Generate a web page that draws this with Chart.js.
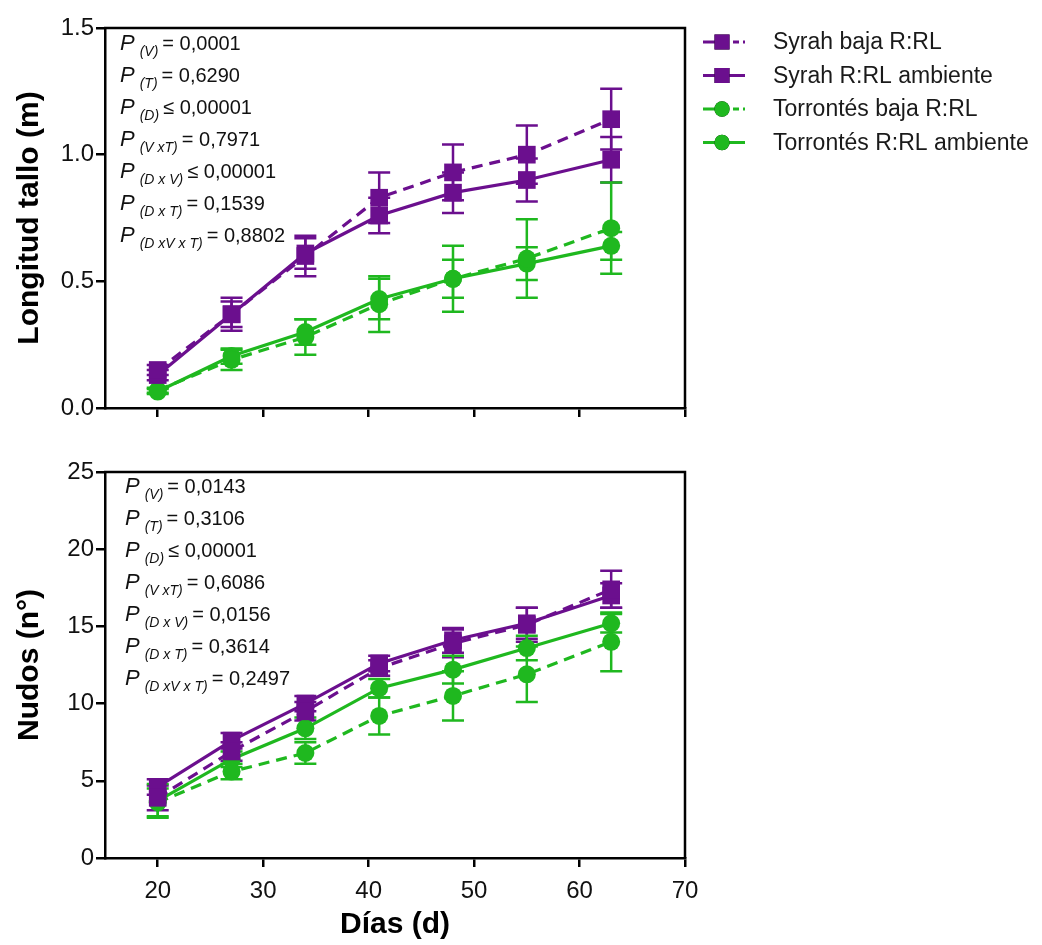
<!DOCTYPE html>
<html>
<head>
<meta charset="utf-8">
<script src="https://cdn.jsdelivr.net/npm/chart.js@4.4.1/dist/chart.umd.min.js"></script>
<style>
    body { margin: 0; background: #fff; }
    canvas { position: absolute; left: 0; }
</style>
</head>
<body>
<canvas id="graficoLongitud" width="1042" height="440" style="top:0"></canvas>
<canvas id="graficoNudos" width="1042" height="505" style="top:440px"></canvas>
<script>
// dias de medicion
const dias = [20, 27, 34, 41, 48, 55, 63];
const xTicks = [20, 30, 40, 50, 60, 70];

const nombres = ['Syrah baja R:RL', 'Syrah R:RL ambiente', 'Torrontés baja R:RL', 'Torrontés R:RL ambiente'];

// longitud tallo (m) + error
const longSyrahBaja = [0.15, 0.37, 0.60, 0.83, 0.93, 1.00, 1.14];
const longSyrahBajaErr = [0.02, 0.065, 0.08, 0.10, 0.11, 0.115, 0.12];
const longSyrahAmb = [0.13, 0.37, 0.61, 0.76, 0.85, 0.90, 0.98];
const longSyrahAmbErr = [0.02, 0.05, 0.06, 0.07, 0.08, 0.085, 0.09];
const longTorrBaja = [0.07, 0.19, 0.28, 0.41, 0.51, 0.59, 0.71];
const longTorrBajaErr = [0.01, 0.04, 0.07, 0.11, 0.13, 0.155, 0.18];
const longTorrAmb = [0.065, 0.205, 0.30, 0.43, 0.51, 0.57, 0.64];
const longTorrAmbErr = [0.01, 0.03, 0.05, 0.08, 0.075, 0.065, 0.055];
const longTicks = [0, 0.5, 1.0, 1.5];

// nudos (n°) + error
const nudSyrahBaja = [3.9, 6.9, 9.5, 12.3, 13.9, 15.1, 17.4];
const nudSyrahBajaErr = [0.8, 0.6, 0.6, 0.5, 0.9, 1.1, 1.2];
const nudSyrahAmb = [4.6, 7.6, 10.0, 12.6, 14.1, 15.2, 17.0];
const nudSyrahAmbErr = [0.5, 0.5, 0.5, 0.5, 0.8, 1.0, 0.8];
const nudTorrBaja = [3.6, 5.6, 6.8, 9.2, 10.5, 11.9, 14.0];
const nudTorrBajaErr = [0.9, 0.5, 0.7, 1.2, 1.6, 1.8, 1.9];
const nudTorrAmb = [3.7, 6.4, 8.4, 11.0, 12.2, 13.6, 15.2];
const nudTorrAmbErr = [1.1, 0.5, 0.7, 0.6, 0.9, 0.8, 0.6];
const nudTicks = [0, 5, 10, 15, 20, 25];

// valores P
const pLongSub = ['(V)', '(T)', '(D)', '(V xT)', '(D x V)', '(D x T)', '(D xV x T)'];
const pLongVal = ['= 0,0001', '= 0,6290', '≤ 0,00001', '= 0,7971', '≤ 0,00001', '= 0,1539', '= 0,8802'];
const pNudSub = ['(V)', '(T)', '(D)', '(V xT)', '(D x V)', '(D x T)', '(D xV x T)'];
const pNudVal = ['= 0,0143', '= 0,3106', '≤ 0,00001', '= 0,6086', '= 0,0156', '= 0,3614', '= 0,2497'];

const viola = '#6b0f8e';
const verde = '#1fb81f';
const fuente = "'Liberation Sans', Arial, sans-serif";
Chart.defaults.font.family = fuente;

function serie(label, valori, errori, colore, tratteggio, punto) {
    return {
        label,
        data: dias.map((d, i) => ({ x: d, y: valori[i] })),
        errori,
        borderColor: colore,
        backgroundColor: colore,
        borderWidth: 3.2,
        borderDash: tratteggio ? [11, 7] : [],
        pointStyle: punto,
        pointRadius: punto === 'rect' ? 12.5 : 9,
        pointBorderWidth: 0,
        tension: 0
    };
}

// barre di errore verticali con cappelletto
const barreErrore = {
    id: 'barreErrore',
    beforeDatasetsDraw(chart) {
        const { ctx, scales: { x, y } } = chart;
        chart.data.datasets.forEach(ds => {
            ctx.save();
            ctx.strokeStyle = ds.borderColor;
            ctx.lineWidth = 2.5;
            ds.data.forEach((p, j) => {
                const e = ds.errori[j];
                const px = x.getPixelForValue(p.x);
                const alto = y.getPixelForValue(p.y + e);
                const basso = y.getPixelForValue(p.y - e);
                ctx.beginPath();
                ctx.moveTo(px, alto); ctx.lineTo(px, basso);
                ctx.moveTo(px - 11, alto); ctx.lineTo(px + 11, alto);
                ctx.moveTo(px - 11, basso); ctx.lineTo(px + 11, basso);
                ctx.stroke();
            });
            ctx.restore();
        });
    }
};

// bordo superiore e destro del riquadro
const riquadro = {
    id: 'riquadro',
    afterDraw(chart) {
        const { ctx, chartArea: a } = chart;
        ctx.save();
        ctx.strokeStyle = '#000';
        ctx.lineWidth = 2.5;
        ctx.beginPath();
        ctx.moveTo(a.left - 1, a.top);
        ctx.lineTo(a.right, a.top);
        ctx.lineTo(a.right, a.bottom);
        ctx.stroke();
        ctx.restore();
    }
};

// testo dei valori P in corsivo con pedice
const testoP = {
    id: 'testoP',
    afterDraw(chart, args, opts) {
        if (!opts.sub) return;
        const { ctx, chartArea: a } = chart;
        ctx.save();
        ctx.fillStyle = '#111';
        ctx.textBaseline = 'alphabetic';
        opts.sub.forEach((s, i) => {
            let x = a.left + opts.dx;
            const y = a.top + opts.dy + i * opts.passo;
            ctx.font = 'italic 22px ' + fuente;
            ctx.fillText('P', x, y);
            x += ctx.measureText('P').width + 5;
            ctx.font = 'italic 14px ' + fuente;
            ctx.fillText(s, x, y + 6);
            x += ctx.measureText(s).width + 4;
            ctx.font = '20px ' + fuente;
            ctx.fillText(opts.val[i], x, y);
        });
        ctx.restore();
    }
};

// legenda a destra con linea, tratteggio e marcatore
const legendaDestra = {
    id: 'legendaDestra',
    afterDraw(chart, args, opts) {
        if (!opts.mostra) return;
        const { ctx } = chart;
        chart.data.datasets.forEach((ds, i) => {
            const y = 42 + i * 33.5;
            ctx.save();
            ctx.strokeStyle = ds.borderColor;
            ctx.lineWidth = 3.2;
            ctx.beginPath();
            if (ds.borderDash.length) {
                ctx.moveTo(703, y); ctx.lineTo(728, y);
                ctx.moveTo(733, y); ctx.lineTo(739, y);
                ctx.moveTo(743, y); ctx.lineTo(745, y);
            } else {
                ctx.moveTo(703, y); ctx.lineTo(745, y);
            }
            ctx.stroke();
            Chart.helpers.drawPoint(ctx, { pointStyle: ds.pointStyle, radius: ds.pointRadius * 0.85, borderWidth: 0 }, 722, y);
            ctx.fillStyle = ds.borderColor;
            ctx.fill();
            ctx.fillStyle = '#1a1a1a';
            ctx.font = '23px ' + fuente;
            ctx.textBaseline = 'middle';
            ctx.fillText(nombres[i], 773, y + 1);
            ctx.restore();
        });
    }
};

function assi(yMax, yTicks, decimali, yTitolo, xTitolo, altezzaX) {
    return {
        x: {
            type: 'linear', min: 15, max: 70,
            afterBuildTicks: a => { a.ticks = xTicks.map(v => ({ value: v })); },
            afterFit: s => { s.height = altezzaX; },
            grid: { drawOnChartArea: false, color: '#000', lineWidth: 2.5, tickLength: 9 },
            border: { color: '#000', width: 2.5 },
            ticks: { display: !!xTitolo, color: '#111', font: { size: 24 }, padding: 10, maxRotation: 0 },
            title: { display: !!xTitolo, text: xTitolo, color: '#000', font: { size: 30, weight: 'bold' }, padding: { top: 0, bottom: 2 } }
        },
        y: {
            type: 'linear', min: 0, max: yMax,
            afterBuildTicks: a => { a.ticks = yTicks.map(v => ({ value: v })); },
            afterFit: s => { s.width = 105; },
            grid: { drawOnChartArea: false, color: '#000', lineWidth: 2.5, tickLength: 9 },
            border: { color: '#000', width: 2.5 },
            ticks: { color: '#111', font: { size: 24 }, padding: 2, callback: v => v.toFixed(decimali) },
            title: { display: true, text: yTitolo, color: '#000', font: { size: 30, weight: 'bold' }, padding: { top: 12, bottom: 0 } }
        }
    };
}

new Chart(document.getElementById('graficoLongitud'), {
    type: 'line',
    data: {
        datasets: [
            serie(nombres[0], longSyrahBaja, longSyrahBajaErr, viola, true, 'rect'),
            serie(nombres[1], longSyrahAmb, longSyrahAmbErr, viola, false, 'rect'),
            serie(nombres[2], longTorrBaja, longTorrBajaErr, verde, true, 'circle'),
            serie(nombres[3], longTorrAmb, longTorrAmbErr, verde, false, 'circle')
        ]
    },
    options: {
        responsive: false,
        animation: false,
        layout: { padding: { top: 28, right: 357, left: 0, bottom: 0 } },
        scales: assi(1.5, longTicks, 1, 'Longitud tallo (m)', '', 32),
        plugins: {
            legend: { display: false },
            tooltip: { enabled: false },
            testoP: { sub: pLongSub, val: pLongVal, dx: 15, dy: 22, passo: 32 },
            legendaDestra: { mostra: true }
        }
    },
    plugins: [barreErrore, riquadro, testoP, legendaDestra]
});

new Chart(document.getElementById('graficoNudos'), {
    type: 'line',
    data: {
        datasets: [
            serie(nombres[0], nudSyrahBaja, nudSyrahBajaErr, viola, true, 'rect'),
            serie(nombres[1], nudSyrahAmb, nudSyrahAmbErr, viola, false, 'rect'),
            serie(nombres[2], nudTorrBaja, nudTorrBajaErr, verde, true, 'circle'),
            serie(nombres[3], nudTorrAmb, nudTorrAmbErr, verde, false, 'circle')
        ]
    },
    options: {
        responsive: false,
        animation: false,
        layout: { padding: { top: 32, right: 357, left: 0, bottom: 0 } },
        scales: assi(25, nudTicks, 0, 'Nudos (n°)', 'Días (d)', 87),
        plugins: {
            legend: { display: false },
            tooltip: { enabled: false },
            testoP: { sub: pNudSub, val: pNudVal, dx: 20, dy: 21, passo: 32 },
            legendaDestra: { mostra: false }
        }
    },
    plugins: [barreErrore, riquadro, testoP, legendaDestra]
});
</script>
</body>
</html>
